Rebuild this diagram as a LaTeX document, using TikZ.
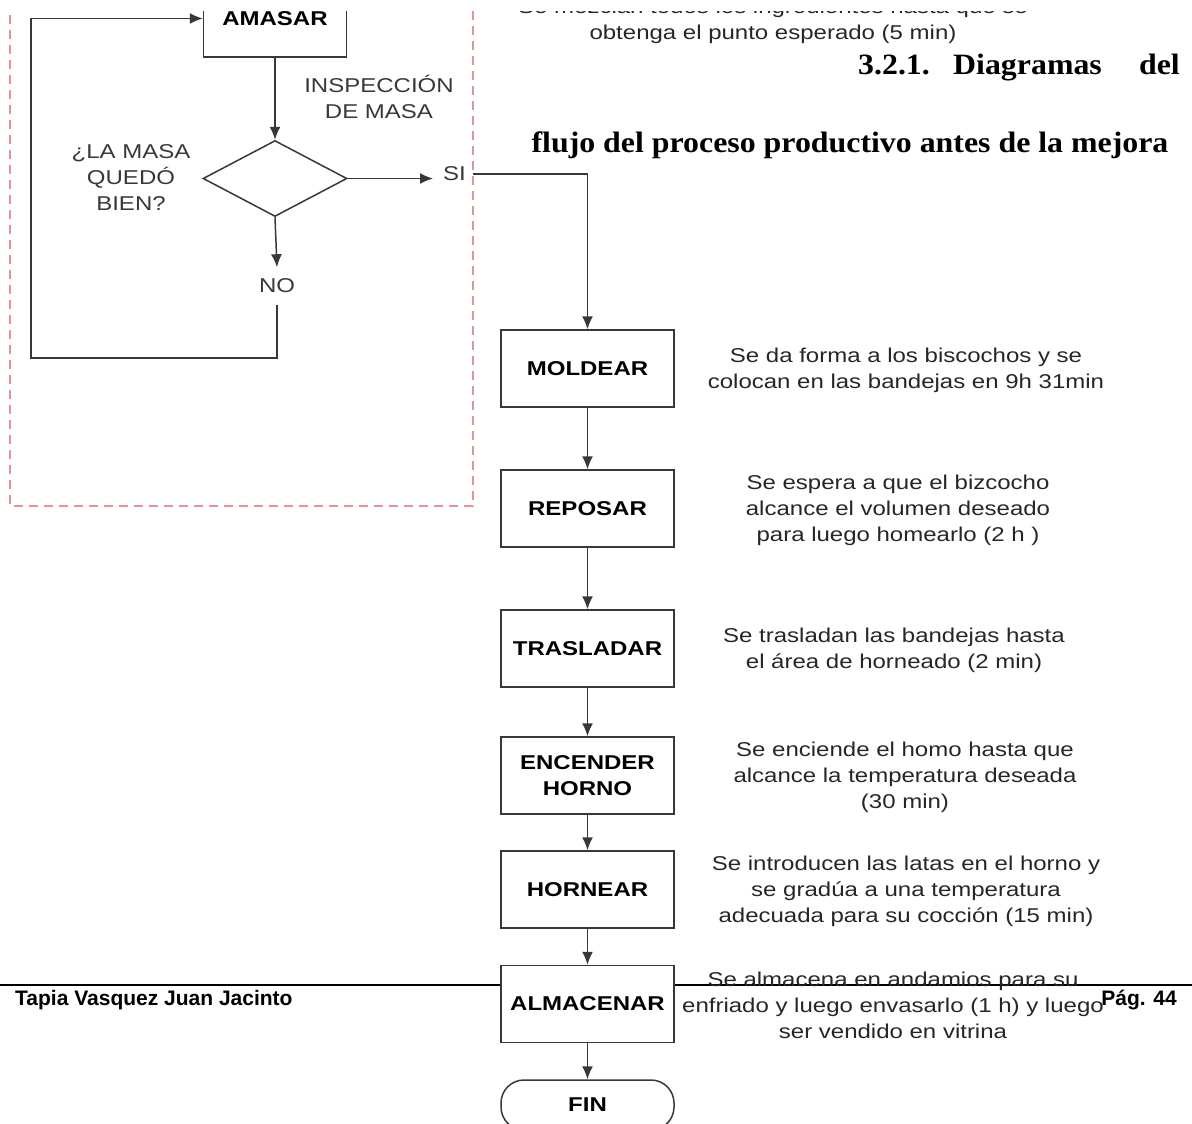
\documentclass[tikz,border=0pt]{standalone}
\usepackage{fontspec}
\usetikzlibrary{arrows.meta,shapes.geometric}
\newfontfamily\dgfont[FakeStretch=1.2]{Liberation Sans}
\newfontfamily\hdfont[FakeStretch=1.08]{Liberation Serif}
\newfontfamily\ftfont{Liberation Sans}
\definecolor{linec}{HTML}{383838}
\definecolor{txtc}{HTML}{262626}
\definecolor{dashc}{HTML}{E39494}

\begin{document}
\begin{tikzpicture}[x=1bp,y=-1bp,
  flow/.style={draw=linec, line width=1.5bp},
  arr/.style={flow, -{Latex[length=13bp,width=11bp]}},
  procbox/.style={draw=linec, line width=1.5bp, fill=white,
    minimum width=173bp, minimum height=77bp, inner sep=0pt, align=center,
    font=\dgfont\bfseries\fontsize{20bp}{26bp}\selectfont, text=black},
  endbox/.style={procbox, minimum height=50bp, rounded corners=23bp},
  decision/.style={diamond, draw=linec, line width=1.5bp, fill=white,
    minimum width=144bp, minimum height=76bp, inner sep=0pt},
  desc/.style={align=center, inner sep=0pt, text=txtc,
    font=\dgfont\fontsize{20bp}{26bp}\selectfont},
  heading/.style={inner sep=0pt, text=black,
    font=\hdfont\bfseries\fontsize{29.5bp}{36bp}\selectfont},
  footer/.style={inner sep=0pt, text=black,
    font=\ftfont\bfseries\fontsize{21bp}{25bp}\selectfont},
  grouplim/.style={draw=dashc, line width=1.5bp, dash pattern=on 9bp off 6bp}
]
\useasboundingbox (0,0) rectangle (1192,1124);

% page footer rule (sits behind the flowchart boxes)
\draw[line width=2.2bp, black] (0,985) -- (1192,985);
\node[footer, anchor=base west] (author) at (15,1005) {Tapia Vasquez Juan Jacinto};
\node[footer, anchor=base east] (page) at (1177,1005) {Pág. 44};

% section heading
\node[heading, anchor=base west] (hnum) at (858,74) {3.2.1.};
\node[heading, anchor=base west] (hword) at (953,74) {Diagramas};
\node[heading, anchor=base east] (hdel) at (1180,74) {del};
\node[heading, anchor=base] (hline) at (850,152) {flujo del proceso productivo antes de la mejora};

\begin{scope}
\clip (0,11) rectangle (1192,1124);

% dashed frame around the kneading loop
\draw[grouplim] (10,0) -- (10,506) -- (473,506) -- (473,0);

% kneading and inspection
\node[procbox, minimum width=143bp] (amasar) at (275,18.5) {AMASAR};
\node[decision] (check) at (275,178.5) {};
\node[desc, text=linec] (insp) at (379,97) {INSPECCIÓN\\DE MASA};
\node[desc, text=linec] (quest) at (131,178) {¿LA MASA\\QUEDÓ\\BIEN?};
\node[desc, text=linec, anchor=west] (si) at (443,174) {SI};
\node[desc, text=linec, inner ysep=11.5bp] (no) at (277,286) {NO};
\coordinate (loop) at (31,358);

\draw[arr] (amasar.south) -- (check.north);
\draw[arr, shorten >=10bp] (check.east) -- (check.east -| si.west);
\draw[arr] (check.south) -- (no.north);
\draw[arr] (no.south) |- (loop) |- (amasar.west);

% main sequence
\node[procbox] (moldear) at (587.5,368.5) {MOLDEAR};
\node[procbox] (reposar) at (587.5,508.5) {REPOSAR};
\node[procbox] (trasladar) at (587.5,648.5) {TRASLADAR};
\node[procbox] (encender) at (587.5,775.5) {ENCENDER\\HORNO};
\node[procbox] (hornear) at (587.5,889.5) {HORNEAR};
\node[procbox] (almacenar) at (587.5,1004) {ALMACENAR};
\node[endbox] (fin) at (587.5,1105) {FIN};

\draw[arr] ([xshift=7bp]si.east) -| (moldear.north);
\draw[arr] (moldear) -- (reposar);
\draw[arr] (reposar) -- (trasladar);
\draw[arr] (trasladar) -- (encender);
\draw[arr] (encender) -- (hornear);
\draw[arr] (hornear) -- (almacenar);
\draw[arr] (almacenar) -- (fin);

% step descriptions
\node[desc] (dmasa) at (773,21) {Se mezclan todos los ingredientes hasta que se\\obtenga el punto esperado (5 min)};
\node[desc] (dmoldear) at (906,370) {Se da forma a los biscochos y se\\colocan en las bandejas en 9h 31min};
\node[desc] (dreposar) at (898,510) {Se espera a que el bizcocho\\alcance el volumen deseado\\para luego homearlo (2 h )};
\node[desc] (dtrasladar) at (894,650) {Se trasladan las bandejas hasta\\el área de horneado (2 min)};
\node[desc] (dencender) at (905,777) {Se enciende el homo hasta que\\alcance la temperatura deseada\\(30 min)};
\node[desc] (dhornear) at (906,891) {Se introducen las latas en el horno y\\se gradúa a una temperatura\\adecuada para su cocción (15 min)};
\node[desc] (dalmacenar) at (893,1005) {Se almacena en andamios para su\\enfriado y luego envasarlo (1 h) y luego\\ser vendido en vitrina};
\end{scope}
\end{tikzpicture}
\end{document}
